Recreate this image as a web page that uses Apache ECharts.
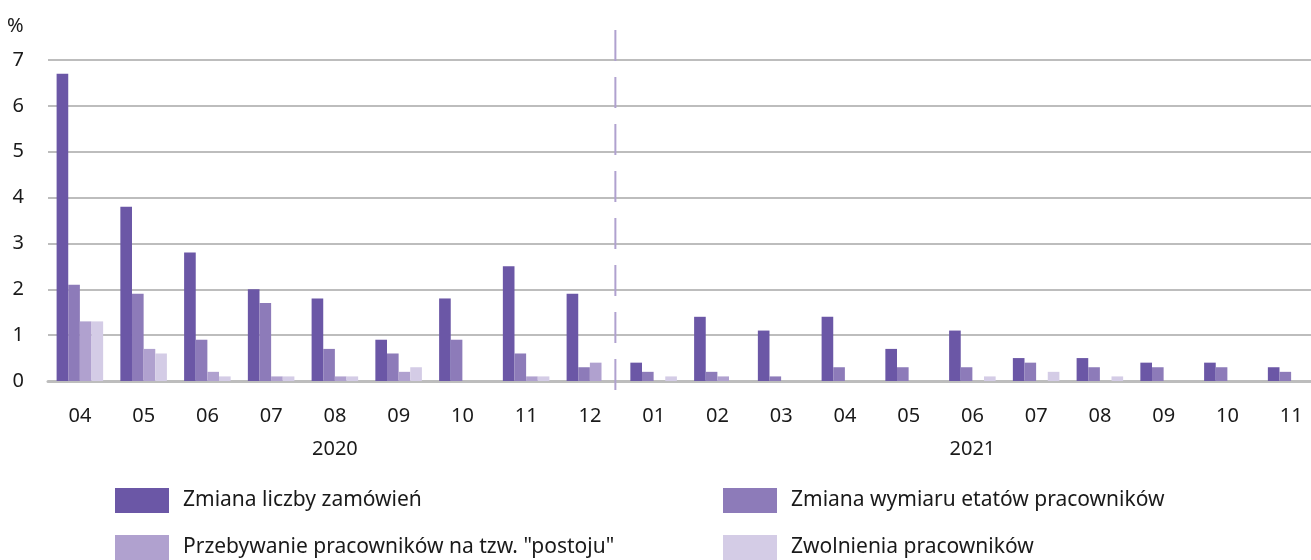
<!DOCTYPE html>
<html>
<head>
<meta charset="utf-8">
<script src="https://cdn.jsdelivr.net/npm/echarts@6/dist/echarts.min.js"></script>
<style>
  html, body { margin: 0; padding: 0; background: #fff; overflow: hidden; }
  #chart { width: 1323px; height: 560px; }
</style>
</head>
<body>
<div id="chart"></div>
<script>
var months = ['04', '05', '06', '07', '08', '09', '10', '11', '12', '01', '02', '03', '04', '05', '06', '07', '08', '09', '10', '11'];
// rok wypisany pod środkowym miesiącem każdego roku
var yearLabels = { 4: '2020', 14: '2021' };
var yTicks = [0, 1, 2, 3, 4, 5, 6, 7];

var names = ['Zmiana liczby zamówień', 'Zmiana wymiaru etatów pracowników', 'Przebywanie pracowników na tzw. "postoju"', 'Zwolnienia pracowników'];
var zamowienia = [6.7, 3.8, 2.8, 2.0, 1.8, 0.9, 1.8, 2.5, 1.9, 0.4, 1.4, 1.1, 1.4, 0.7, 1.1, 0.5, 0.5, 0.4, 0.4, 0.3];
var etaty = [2.1, 1.9, 0.9, 1.7, 0.7, 0.6, 0.9, 0.6, 0.3, 0.2, 0.2, 0.1, 0.3, 0.3, 0.3, 0.4, 0.3, 0.3, 0.3, 0.2];
var postoj = [1.3, 0.7, 0.2, 0.1, 0.1, 0.2, 0, 0.1, 0.4, 0, 0.1, 0, 0, 0, 0, 0, 0, 0, 0, 0];
var zwolnienia = [1.3, 0.6, 0.1, 0.1, 0.1, 0.3, 0, 0.1, 0, 0.1, 0, 0, 0, 0, 0.1, 0.2, 0.1, 0, 0, 0];
var kolory = ['#6b57a6', '#8d7bb9', '#b0a1cf', '#d4cce6'];

var font = 'Noto Sans';
var chart = echarts.init(document.getElementById('chart'));

function legenda(i, left, top) {
    return {
        left: left, top: top,
        icon: 'rect',
        itemWidth: 54, itemHeight: 25,
        data: [names[i]],
        textStyle: { fontSize: 21, color: '#1a1a1a', fontFamily: font, padding: [0, 0, 0, 9] }
    };
}

function serie(i, data) {
    return {
        name: names[i],
        type: 'bar',
        data: data,
        barGap: '0%',
        barCategoryGap: '27%',
        itemStyle: { color: kolory[i] }
    };
}

var option = {
    animation: false,
    textStyle: { fontFamily: font },
    grid: { left: 48, right: 0, top: 60, bottom: 179, containLabel: false },
    legend: [legenda(0, 110, 483), legenda(2, 110, 530), legenda(1, 718, 483), legenda(3, 718, 530)],
    xAxis: {
        type: 'category',
        data: months,
        axisTick: { show: false },
        axisLine: { lineStyle: { color: '#bdbdbd', width: 3 } },
        axisLabel: {
            interval: 0,
            margin: 19,
            fontSize: 20,
            color: '#1a1a1a',
            lineHeight: 33,
            formatter: function (v, i) {
                return yearLabels[i] ? v + '\n' + yearLabels[i] : v;
            }
        }
    },
    yAxis: {
        type: 'value',
        min: yTicks[0],
        max: yTicks[yTicks.length - 1],
        interval: 1,
        name: '%',
        nameLocation: 'end',
        nameGap: 24,
        nameTextStyle: { fontSize: 20, color: '#1a1a1a', align: 'left', padding: [0, 0, 0, -41] },
        axisLabel: { fontSize: 20, color: '#1a1a1a', margin: 24 },
        splitLine: { lineStyle: { color: '#bdbdbd', width: 2 } }
    },
    series: [serie(0, zamowienia), serie(1, etaty), serie(2, postoj), serie(3, zwolnienia)]
};
chart.setOption(option);

// przerywana linia między 2020 a 2021 (trochę w lewo od granicy kategorii)
var p12 = chart.convertToPixel({ xAxisIndex: 0 }, 8);
var p01 = chart.convertToPixel({ xAxisIndex: 0 }, 9);
var xLinii = p12 + (p01 - p12) * 0.4;
chart.setOption({
    graphic: [{
        type: 'line',
        silent: true,
        z: 10,
        shape: { x1: xLinii, y1: 30, x2: xLinii, y2: 403 },
        style: { stroke: '#b0a1cf', lineWidth: 2, lineDash: [31, 16] }
    }]
});
</script>
</body>
</html>
